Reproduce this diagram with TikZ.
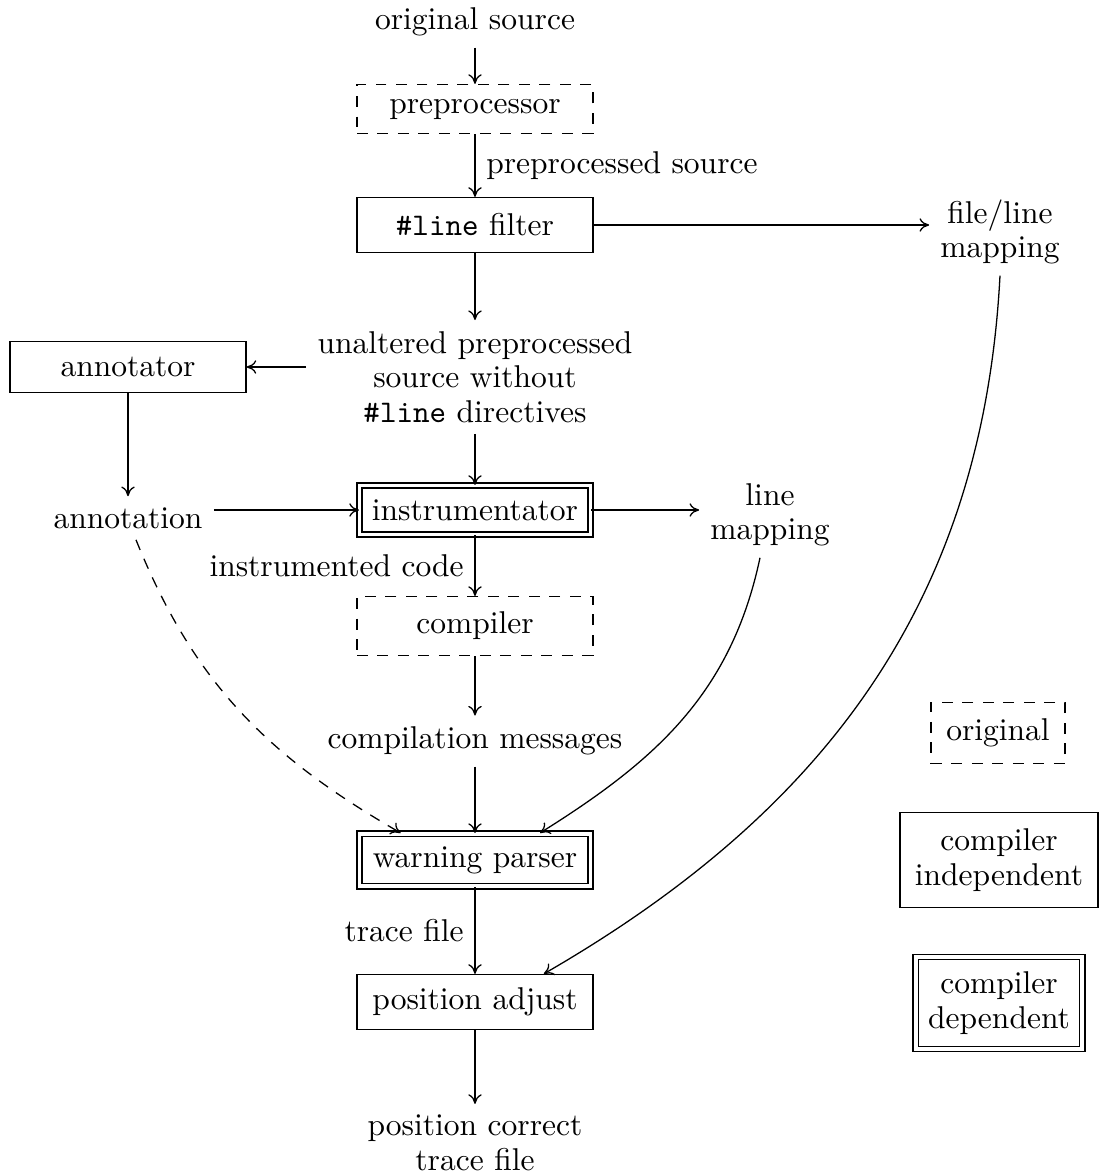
\documentclass[tikz,border=0pt]{standalone}
\usetikzlibrary{calc,arrows.meta}
\begin{document}
\begin{tikzpicture}[x=0.3125pt,y=0.3125pt,
  every node/.style={font=\fontsize{9.85}{10.8}\selectfont},
  box/.style={draw, minimum width=73.75pt, inner sep=0pt},
  dblbox/.style={draw, double, double distance=1.2pt, minimum width=72.15pt, inner sep=0pt},
  dshbox/.style={draw, dash pattern=on 3.4pt off 3pt, minimum width=73.75pt, inner sep=0pt},
  multi/.style={align=center},
  arr/.style={-{To[length=3pt,width=4.2pt]}}
]
\useasboundingbox (0,0) rectangle (1099,-1175);

\node (src) at (475,-22) {original source};
\node[dshbox, minimum height=15.3pt] (pre) at (475,-109) {preprocessor};
\node[box, minimum height=17.2pt] (filt) at (475,-225) {\texttt{\#line} filter};
\node[multi] (flm) at (1000,-232) {file/line\\mapping};
\node[multi] (unalt) at (475,-377) {unaltered preprocessed\\source without\\\texttt{\#line} directives};
\node[box, minimum height=15.9pt] (annr) at (128,-367) {annotator};
\node (annt) at (128,-518) {annotation};
\node[dblbox, minimum height=15.3pt] (instr) at (475,-510) {instrumentator};
\node[multi] (lmap) at (770,-515) {line\\mapping};
\node[dshbox, minimum height=18.4pt] (comp) at (475,-626) {compiler};
\node (msgs) at (475,-741) {compilation messages};
\node[dblbox, minimum height=16.5pt] (wp) at (475,-860) {warning parser};
\node[box, minimum height=17.2pt] (pa) at (475,-1002) {position adjust};
\node[multi] (res) at (475,-1143) {position correct\\trace file};

\node[dshbox, minimum width=41.9pt, minimum height=19pt] (lo) at (998,-733) {original};
\node[box, minimum width=61.9pt, minimum height=29.7pt, multi] (li) at (999,-860) {compiler\\independent};
\node[dblbox, minimum width=52.1pt, minimum height=28.7pt, multi] (ld) at (999,-1003) {compiler\\dependent};

\coordinate (wpa) at ($(wp.north west)!0.18!(wp.north east)$);
\coordinate (wpb) at ($(wp.north west)!0.78!(wp.north east)$);
\coordinate (paa) at ($(pa.north west)!0.79!(pa.north east)$);
\coordinate (annts) at ($(annt.south)+(8,0)$);
\coordinate (lmaps) at ($(lmap.south)+(-10,0)$);

\draw[arr] (src) -- (pre);
\draw[arr] (pre) -- node[right]{preprocessed source} (filt);
\draw[arr] (filt.east) -- (flm.west |- filt.east);
\draw[arr] (filt) -- (unalt);
\draw[arr] (unalt.west |- annr.east) -- (annr.east);
\draw[arr] (annr) -- (annt);
\draw[arr] (annt.east |- instr.west) -- (instr.west);
\draw[arr] (unalt) -- (instr);
\draw[arr] (instr.east) -- (lmap.west |- instr.east);
\draw[arr] (instr) -- node[left]{instrumented code} (comp);
\draw[arr] (comp) -- (msgs);
\draw[arr] (msgs) -- (wp);
\draw[arr] (wp) -- node[left]{trace file} (pa);
\draw[arr] (pa) -- (res);
\draw[arr, dash pattern=on 3.4pt off 3pt] (annts) to[out=-68, in=150] (wpa);
\draw[arr] (lmaps) to[out=-102, in=32] (wpb);
\draw[arr] (flm.south) to[out=-93, in=30] (paa);
\end{tikzpicture}
\end{document}
